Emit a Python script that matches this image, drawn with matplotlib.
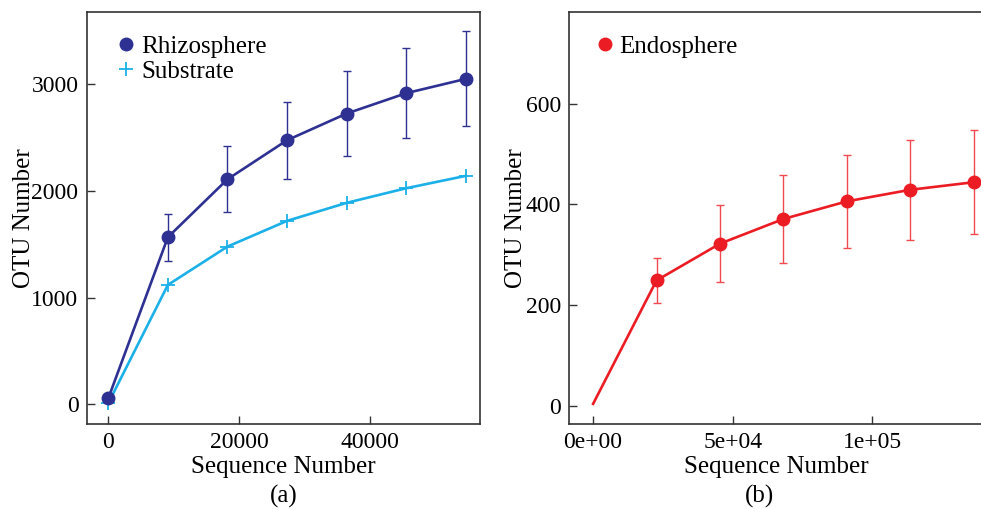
import matplotlib
matplotlib.use("Agg")
import matplotlib.pyplot as plt
from matplotlib.lines import Line2D

plt.rcParams['font.family'] = ['Liberation Serif', 'DejaVu Serif']

# === 數據 ===
seq_a = [0, 9110, 18220, 27330, 36440, 45550, 54660]
rhizo = [56, 1566, 2109, 2475, 2725, 2916, 3050]
rhizo_err = [0, 220, 310, 362, 397, 423, 445]
substrate = [10, 1119, 1478, 1719, 1888, 2025, 2141]

seq_b = [0, 22700, 45400, 68100, 90800, 113500, 136200]
endo = [4, 249, 322, 371, 406, 429, 444]
endo_err = [0, 45, 77, 88, 93, 99, 103]

NAVY = '#2e3192'
CYAN = '#1cb0e8'
RED = '#ec1c24'

fig = plt.figure(figsize=(9.81, 5.09), dpi=100)
ax1 = fig.add_axes([0.0884, 0.167, 0.4009, 0.8094])
ax2 = fig.add_axes([0.5803, 0.167, 0.4217, 0.8094])

# --- (a) ---
ax1.plot(seq_a, substrate, color=CYAN, lw=1.9, marker='+', ms=10, mew=1.3, zorder=2)
ax1.errorbar(seq_a[1:], rhizo[1:], yerr=rhizo_err[1:], fmt='none', ecolor=NAVY,
             elinewidth=1.0, capsize=3, capthick=1.0, zorder=3)
ax1.plot(seq_a, rhizo, color=NAVY, lw=1.9, marker='o', ms=9, zorder=4)
ax1.set_xlim(-3300, 56840)
ax1.set_ylim(-185, 3677)
ax1.set_xticks([0, 20000, 40000])
ax1.set_yticks([0, 1000, 2000, 3000])
ax1.set_xlabel('Sequence Number', fontsize=18, labelpad=2)
ax1.set_ylabel('OTU Number', fontsize=18, labelpad=-3)
handles = [Line2D([], [], color=NAVY, marker='o', ls='none', ms=9),
           Line2D([], [], color=CYAN, marker='+', ls='none', ms=10, mew=1.3)]
ax1.legend(handles, ['Rhizosphere', 'Substrate'], loc='upper left', frameon=False,
           fontsize=18, handlelength=0.6, handletextpad=0.3, labelspacing=0.1,
           borderaxespad=0.2, bbox_to_anchor=(0.043, 0.98))
ax1.text(0.5, -0.148, '(a)', transform=ax1.transAxes, ha='center', va='top', fontsize=18)

# --- (b) ---
ax2.errorbar(seq_b[1:], endo[1:], yerr=endo_err[1:], fmt='none', ecolor='#f04a50',
             elinewidth=1.0, capsize=3, capthick=1.0, zorder=3)
ax2.plot(seq_b, endo, color=RED, lw=1.9, zorder=4)
ax2.plot(seq_b[1:], endo[1:], color=RED, ls='none', marker='o', ms=9, zorder=5)
ax2.set_xlim(-8530, 139560)
ax2.set_ylim(-36, 782)
ax2.set_xticks([0, 50000, 100000])
ax2.set_xticklabels(['0e+00', '5e+04', '1e+05'])
ax2.set_yticks([0, 200, 400, 600])
ax2.set_xlabel('Sequence Number', fontsize=18, labelpad=2)
ax2.set_ylabel('OTU Number', fontsize=18, labelpad=-1)
ax2.legend([Line2D([], [], color=RED, marker='o', ls='none', ms=9)], ['Endosphere'],
           loc='upper left', frameon=False, fontsize=18, handlelength=0.6,
           handletextpad=0.3, borderaxespad=0.2, bbox_to_anchor=(0.031, 0.98))
ax2.text(0.46, -0.148, '(b)', transform=ax2.transAxes, ha='center', va='top', fontsize=18)

for ax in (ax1, ax2):
    ax.tick_params(direction='in', length=6, width=1.0, labelsize=17, pad=6, color='#333333')
    for s in ax.spines.values():
        s.set_linewidth(1.2)
        s.set_color('#333333')

fig.savefig('out.png', dpi=100)
